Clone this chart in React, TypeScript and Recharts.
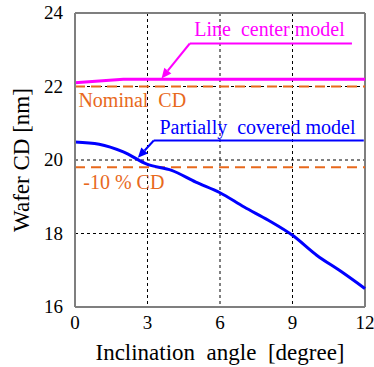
import {
    CartesianGrid,
    Line,
    LineChart,
    ReferenceDot,
    ReferenceLine,
    XAxis,
    YAxis,
} from "recharts";

export const angles = [0, 1, 2, 3, 4, 5, 6, 7, 8, 9, 10, 11, 12];
export const lineCenterCD = [22.1, 22.15, 22.2, 22.2, 22.2, 22.2, 22.2, 22.2, 22.2, 22.2, 22.2, 22.2, 22.2];
export const partialCD = [20.49, 20.43, 20.22, 19.88, 19.72, 19.4, 19.11, 18.72, 18.36, 17.95, 17.41, 16.97, 16.5];
export const xTicks = [0, 3, 6, 9, 12];
export const yTicks = [16, 18, 20, 22, 24];
export const nominalCD = 22;
export const minusTenCD = 19.8;

const data = angles.map((a, i) => ({
    angle: a,
    center: lineCenterCD[i],
    partial: partialCD[i],
}));

const PINK = "#ff00ff";
const BLUE = "#0000ff";
const ORANGE = "#e8691c";
const FRAME = "#7f7f7f";
const FONT = "Liberation Serif";

// force the serif face even if some stylesheet says otherwise
const serifRef = (el: SVGTextElement | null) => {
    if (el) {
        el.style.setProperty("font-family", FONT, "important");
        el.style.setProperty("white-space", "pre");
    }
};

function arrowShape(color: string) {
    return (props: any) => {
        const { x1, y1, x2, y2 } = props;
        const ang = Math.atan2(y2 - y1, x2 - x1);
        const len = 10;
        const w = 4.5;
        const bx = x2 - len * Math.cos(ang);
        const by = y2 - len * Math.sin(ang);
        const px = -Math.sin(ang) * w;
        const py = Math.cos(ang) * w;
        return (
            <g>
                <line x1={x1} y1={y1} x2={bx} y2={by} stroke={color} strokeWidth={2} />
                <polygon
                    points={`${x2},${y2} ${bx + px},${by + py} ${bx - px},${by - py}`}
                    fill={color}
                />
            </g>
        );
    };
}

// annotation text centred on a data point
function textLabel(value: string, color: string) {
    return (props: any) => {
        const vb = props.viewBox || {};
        const cx = (vb.x ?? 0) + (vb.width ?? 0) / 2;
        const cy = (vb.y ?? 0) + (vb.height ?? 0) / 2;
        return (
            <text
                ref={serifRef}
                x={cx}
                y={cy}
                fill={color}
                fontSize={20}
                fontFamily={FONT}
                textAnchor="middle"
                dominantBaseline="central"
            >
                {value}
            </text>
        );
    };
}

function XTick(props: any) {
    const { x, y, payload } = props;
    return (
        <text ref={serifRef} x={x} y={y + 12} fontSize={19} fontFamily={FONT} fill="#000" textAnchor="middle">
            {payload.value}
        </text>
    );
}

function YTick(props: any) {
    const { x, y, payload } = props;
    return (
        <text ref={serifRef} x={x} y={y + 6} fontSize={19} fontFamily={FONT} fill="#000" textAnchor="end">
            {payload.value}
        </text>
    );
}

export default function App() {
    return (
        <div id="cdchart" style={{ position: "absolute", left: 0, top: 0, background: "#fff" }}>
            <style>{`html body #root #cdchart svg text { font-family: 'Liberation Serif', serif !important; white-space: pre; }`}</style>
            <LineChart
                width={374}
                height={367}
                data={data}
                margin={{ top: 13, right: 9, left: 0, bottom: 0 }}
            >
                <CartesianGrid
                    stroke="#000"
                    strokeDasharray="3 3"
                    strokeWidth={1}
                />
                <XAxis
                    dataKey="angle"
                    type="number"
                    domain={[0, 12]}
                    ticks={xTicks}
                    height={60}
                    tickLine={false}
                    axisLine={{ stroke: FRAME, strokeWidth: 2 }}
                    tick={<XTick />}
                    tickMargin={4}
                    label={(p: any) => {
                        const vb = p.viewBox;
                        return (
                            <text
                                ref={serifRef}
                                x={vb.x + vb.width / 2}
                                y={352}
                                fontSize={23}
                                fontFamily={FONT}
                                fill="#000"
                                textAnchor="middle"
                                dominantBaseline="central"
                            >
                                {"Inclination  angle  [degree]"}
                            </text>
                        );
                    }}
                />
                <YAxis
                    type="number"
                    domain={[16, 24]}
                    ticks={yTicks}
                    width={75}
                    tickLine={false}
                    axisLine={{ stroke: FRAME, strokeWidth: 2 }}
                    tick={<YTick />}
                    tickMargin={6}
                    label={(p: any) => {
                        const vb = p.viewBox;
                        const cy = vb.y + vb.height / 2;
                        return (
                            <text
                                ref={serifRef}
                                x={21}
                                y={cy}
                                transform={`rotate(-90, 21, ${cy})`}
                                fontSize={23}
                                fontFamily={FONT}
                                fill="#000"
                                textAnchor="middle"
                                dominantBaseline="central"
                            >
                                Wafer CD [nm]
                            </text>
                        );
                    }}
                />
                <ReferenceLine y={24} stroke={FRAME} strokeWidth={2} />
                <ReferenceLine x={12} stroke={FRAME} strokeWidth={2} />
                <ReferenceLine
                    y={nominalCD}
                    stroke={ORANGE}
                    strokeWidth={2}
                    strokeDasharray="10 6"
                />
                <ReferenceLine
                    y={minusTenCD}
                    stroke={ORANGE}
                    strokeWidth={2}
                    strokeDasharray="10 6"
                />
                <Line
                    dataKey="center"
                    type="linear"
                    stroke={PINK}
                    strokeWidth={3}
                    dot={false}
                    isAnimationActive={false}
                />
                <Line
                    dataKey="partial"
                    type="monotone"
                    stroke={BLUE}
                    strokeWidth={3}
                    dot={false}
                    isAnimationActive={false}
                />
                {/* callout: line center model */}
                <ReferenceLine
                    segment={[{ x: 4.75, y: 23.17 }, { x: 11.46, y: 23.17 }]}
                    stroke={PINK}
                    strokeWidth={2}
                />
                <ReferenceLine
                    segment={[{ x: 4.75, y: 23.17 }, { x: 3.58, y: 22.22 }]}
                    shape={arrowShape(PINK)}
                />
                {/* callout: partially covered model */}
                <ReferenceLine
                    segment={[{ x: 3.26, y: 20.53 }, { x: 11.95, y: 20.53 }]}
                    stroke={BLUE}
                    strokeWidth={2}
                />
                <ReferenceLine
                    segment={[{ x: 3.26, y: 20.53 }, { x: 2.6, y: 20.06 }]}
                    shape={arrowShape(BLUE)}
                />
                <ReferenceDot x={8.05} y={23.56} r={0} stroke="none" label={textLabel("Line  center model", PINK)} />
                <ReferenceDot x={2.37} y={21.62} r={0} stroke="none" label={textLabel("Nominal  CD", ORANGE)} />
                <ReferenceDot x={7.55} y={20.9} r={0} stroke="none" label={textLabel("Partially  covered model", BLUE)} />
                <ReferenceDot x={2.02} y={19.4} r={0} stroke="none" label={textLabel("-10 % CD", ORANGE)} />
            </LineChart>
        </div>
    );
}
